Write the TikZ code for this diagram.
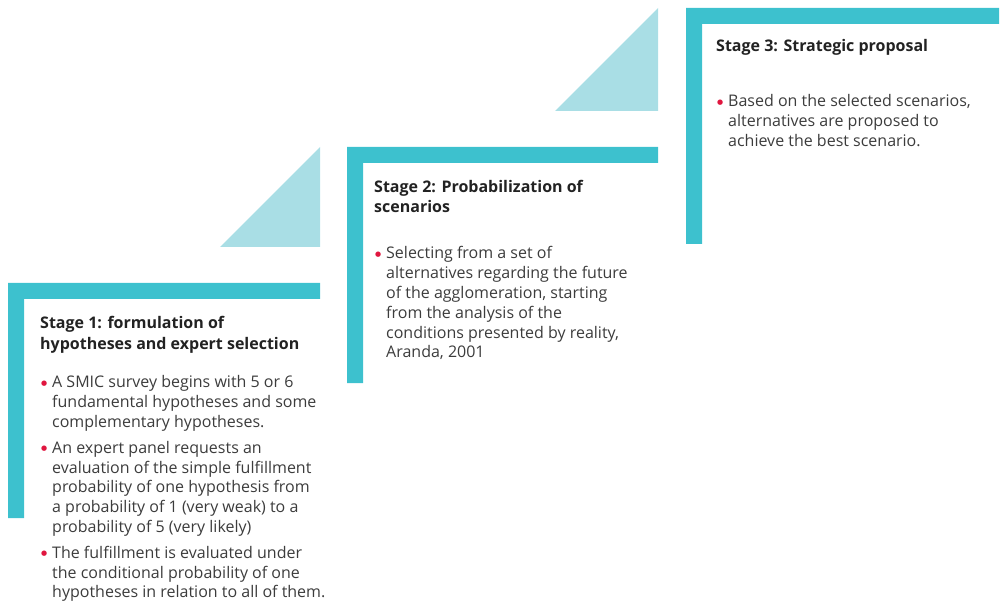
\documentclass[tikz,border=0pt]{standalone}
\usepackage{fontspec}
\setmainfont{Open Sans}
\newfontfamily\dotfont{DejaVu Sans}
\definecolor{barteal}{HTML}{3DC1CE}
\definecolor{trilight}{HTML}{A9DEE5}
\definecolor{titlecol}{HTML}{222222}
\definecolor{bodycol}{HTML}{3C3C3C}
\definecolor{bulletred}{HTML}{E0163F}
\newcommand{\bpt}[1]{\par\noindent\hangindent=12pt\hangafter=1\makebox[12pt][l]{\kern1pt\textcolor{bulletred}{{\dotfont\fontsize{7}{7}\selectfont\raisebox{2.8pt}{●}}}}#1\par}
\tikzset{
  bar/.style={fill=barteal, draw=none},
  tri/.style={fill=trilight, draw=none},
  stagetitle/.style={inner sep=0pt, anchor=base west, text=titlecol, font=\bfseries\fontsize{16}{20.5}\selectfont},
  stagebody/.style={inner sep=0pt, anchor=base west, text=bodycol, font=\fontsize{16}{19.8}\selectfont}
}
\begin{document}
\begin{tikzpicture}[x=1pt,y=-1pt]
\useasboundingbox (0,0) rectangle (1001,601);
% triangles
\fill[tri] (220,247) -- (320,147) -- (320,247) -- cycle;
\fill[tri] (555,111) -- (658,8) -- (658,111) -- cycle;
% brackets
\fill[bar] (8,283) -- (320,283) -- (320,299) -- (24,299) -- (24,518) -- (8,518) -- cycle;
\fill[bar] (347,147) -- (658,147) -- (658,163) -- (363,163) -- (363,383) -- (347,383) -- cycle;
\fill[bar] (686,8) -- (999,8) -- (999,24) -- (702,24) -- (702,244) -- (686,244) -- cycle;
% stage 1
\node[stagetitle] (t1) at (40,329) {\parbox[t]{300pt}{Stage 1: formulation of\\hypotheses and expert selection}};
\node[stagebody] (b1) at (40,388) {\parbox[t]{330pt}{%
\bpt{A SMIC survey begins with 5 or 6\\fundamental hypotheses and some\\complementary hypotheses.}\vspace{6pt}
\bpt{An expert panel requests an\\evaluation of the simple fulfillment\\probability of one hypothesis from\\a probability of 1 (very weak) to a\\probability of 5 (very likely)}\vspace{6pt}
\bpt{The fulfillment is evaluated under\\the conditional probability of one\\hypotheses in relation to all of them.}}};
% stage 2
\node[stagetitle] (t2) at (374,192.5) {\parbox[t]{300pt}{Stage 2: Probabilization of\\scenarios}};
\node[stagebody] (b2) at (374,259) {\parbox[t]{330pt}{%
\bpt{Selecting from a set of\\alternatives regarding the future\\of the agglomeration, starting\\from the analysis of the\\conditions presented by reality,\\Aranda, 2001}}};
% stage 3
\node[stagetitle] (t3) at (716,52) {\parbox[t]{280pt}{Stage 3: Strategic proposal}};
\node[stagebody] (b3) at (716,107) {\parbox[t]{290pt}{%
\bpt{Based on the selected scenarios,\\alternatives are proposed to\\achieve the best scenario.}}};
\end{tikzpicture}
\end{document}
